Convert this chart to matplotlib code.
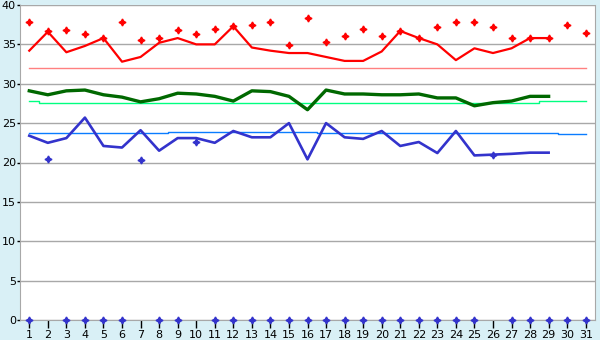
"""Daily values with averages, 31-day month chart."""

import matplotlib.pyplot as plt

days = list(range(1, 32))
days_line = days[:29]

red_line = [34.2, 36.6, 34.0, 34.8, 35.8, 32.8, 33.4, 35.2, 35.8, 35.0,
            35.0, 37.3, 34.6, 34.2, 33.9, 33.9, 33.4, 32.9, 32.9, 34.1,
            36.7, 35.8, 35.0, 33.0, 34.5, 33.9, 34.5, 35.8, 35.8]
red_points = [37.8, 36.7, 36.8, 36.3, 35.8, 37.8, 35.6, 35.8, 36.8, 36.3,
              37.0, 37.3, 37.5, 37.8, 34.9, 38.3, 35.3, 36.1, 37.0, 36.1,
              36.7, 35.8, 37.2, 37.8, 37.8, 37.2, 35.8, 35.8, 35.8, 37.4,
              36.4]
red_avg = [32.0] * 31

green_line = [29.1, 28.6, 29.1, 29.2, 28.6, 28.3, 27.7, 28.1, 28.8, 28.7,
              28.4, 27.8, 29.1, 29.0, 28.4, 26.7, 29.2, 28.7, 28.7, 28.6,
              28.6, 28.7, 28.2, 28.2, 27.2, 27.6, 27.8, 28.4, 28.4]
green_avg = [27.85] + [27.6] * 27 + [27.8] * 3

blue_line = [23.4, 22.5, 23.1, 25.7, 22.1, 21.9, 24.1, 21.5, 23.1, 23.1,
             22.5, 24.0, 23.2, 23.2, 25.0, 20.4, 25.0, 23.2, 23.0, 24.0,
             22.1, 22.6, 21.2, 24.0, 20.9, 21.0, 21.1, 21.25, 21.25]
blue_points = [0, 20.4, 0, 0, 0, 0, 20.3, 0, 0, 22.6,
               0, 0, 0, 0, 0, 0, 0, 0, 0, 0,
               0, 0, 0, 0, 0, 21.0, 0, 0, 0, 0,
               0]
blue_avg = [23.8] * 8 + [23.9] * 8 + [23.8] * 9 + [23.7] * 4 + [23.6] * 2

bg = "#d9f0f6"
fig = plt.figure(figsize=(6, 3.4), dpi=100, facecolor=bg)
ax = fig.add_axes([20 / 600, 20 / 340, 575 / 600, 315 / 340])

star = (4, 1, 0)

ax.plot(days, red_avg, color="#ff8080", lw=1)
ax.plot(days, green_avg, color="#00ff80", lw=1, drawstyle="steps-mid")
ax.plot(days, blue_avg, color="#0a7cff", lw=1, drawstyle="steps-mid")

ax.plot(days_line, red_line, color="#ff0000", lw=1.6)
ax.plot(days_line, green_line, color="#006800", lw=2.4)
ax.plot(days_line, blue_line, color="#3333cc", lw=1.9)

ax.plot(days, red_points, ls="none", marker=star, ms=5, color="#ff0000")
ax.plot(days, blue_points, ls="none", marker=star, ms=5, color="#3333cc",
        clip_on=False, zorder=5)

ax.set_xlim(0.5, 31.5)
ax.set_ylim(0, 40)
ax.set_xticks(days)
ax.set_yticks(range(0, 41, 5))
ax.grid(axis="y", color="#a8a8a8", lw=1)
ax.set_axisbelow(True)

for side in ["left", "bottom", "right", "top"]:
    ax.spines[side].set_color("#a8a8a8")
ax.spines["top"].set_visible(False)

ax.tick_params(axis="x", direction="out", length=6, width=1, color="black",
               labelsize=8, pad=1)
ax.tick_params(axis="y", direction="out", length=2, width=1, color="black",
               labelsize=8, pad=1)

plt.savefig("out.png", dpi=100, facecolor=bg)
